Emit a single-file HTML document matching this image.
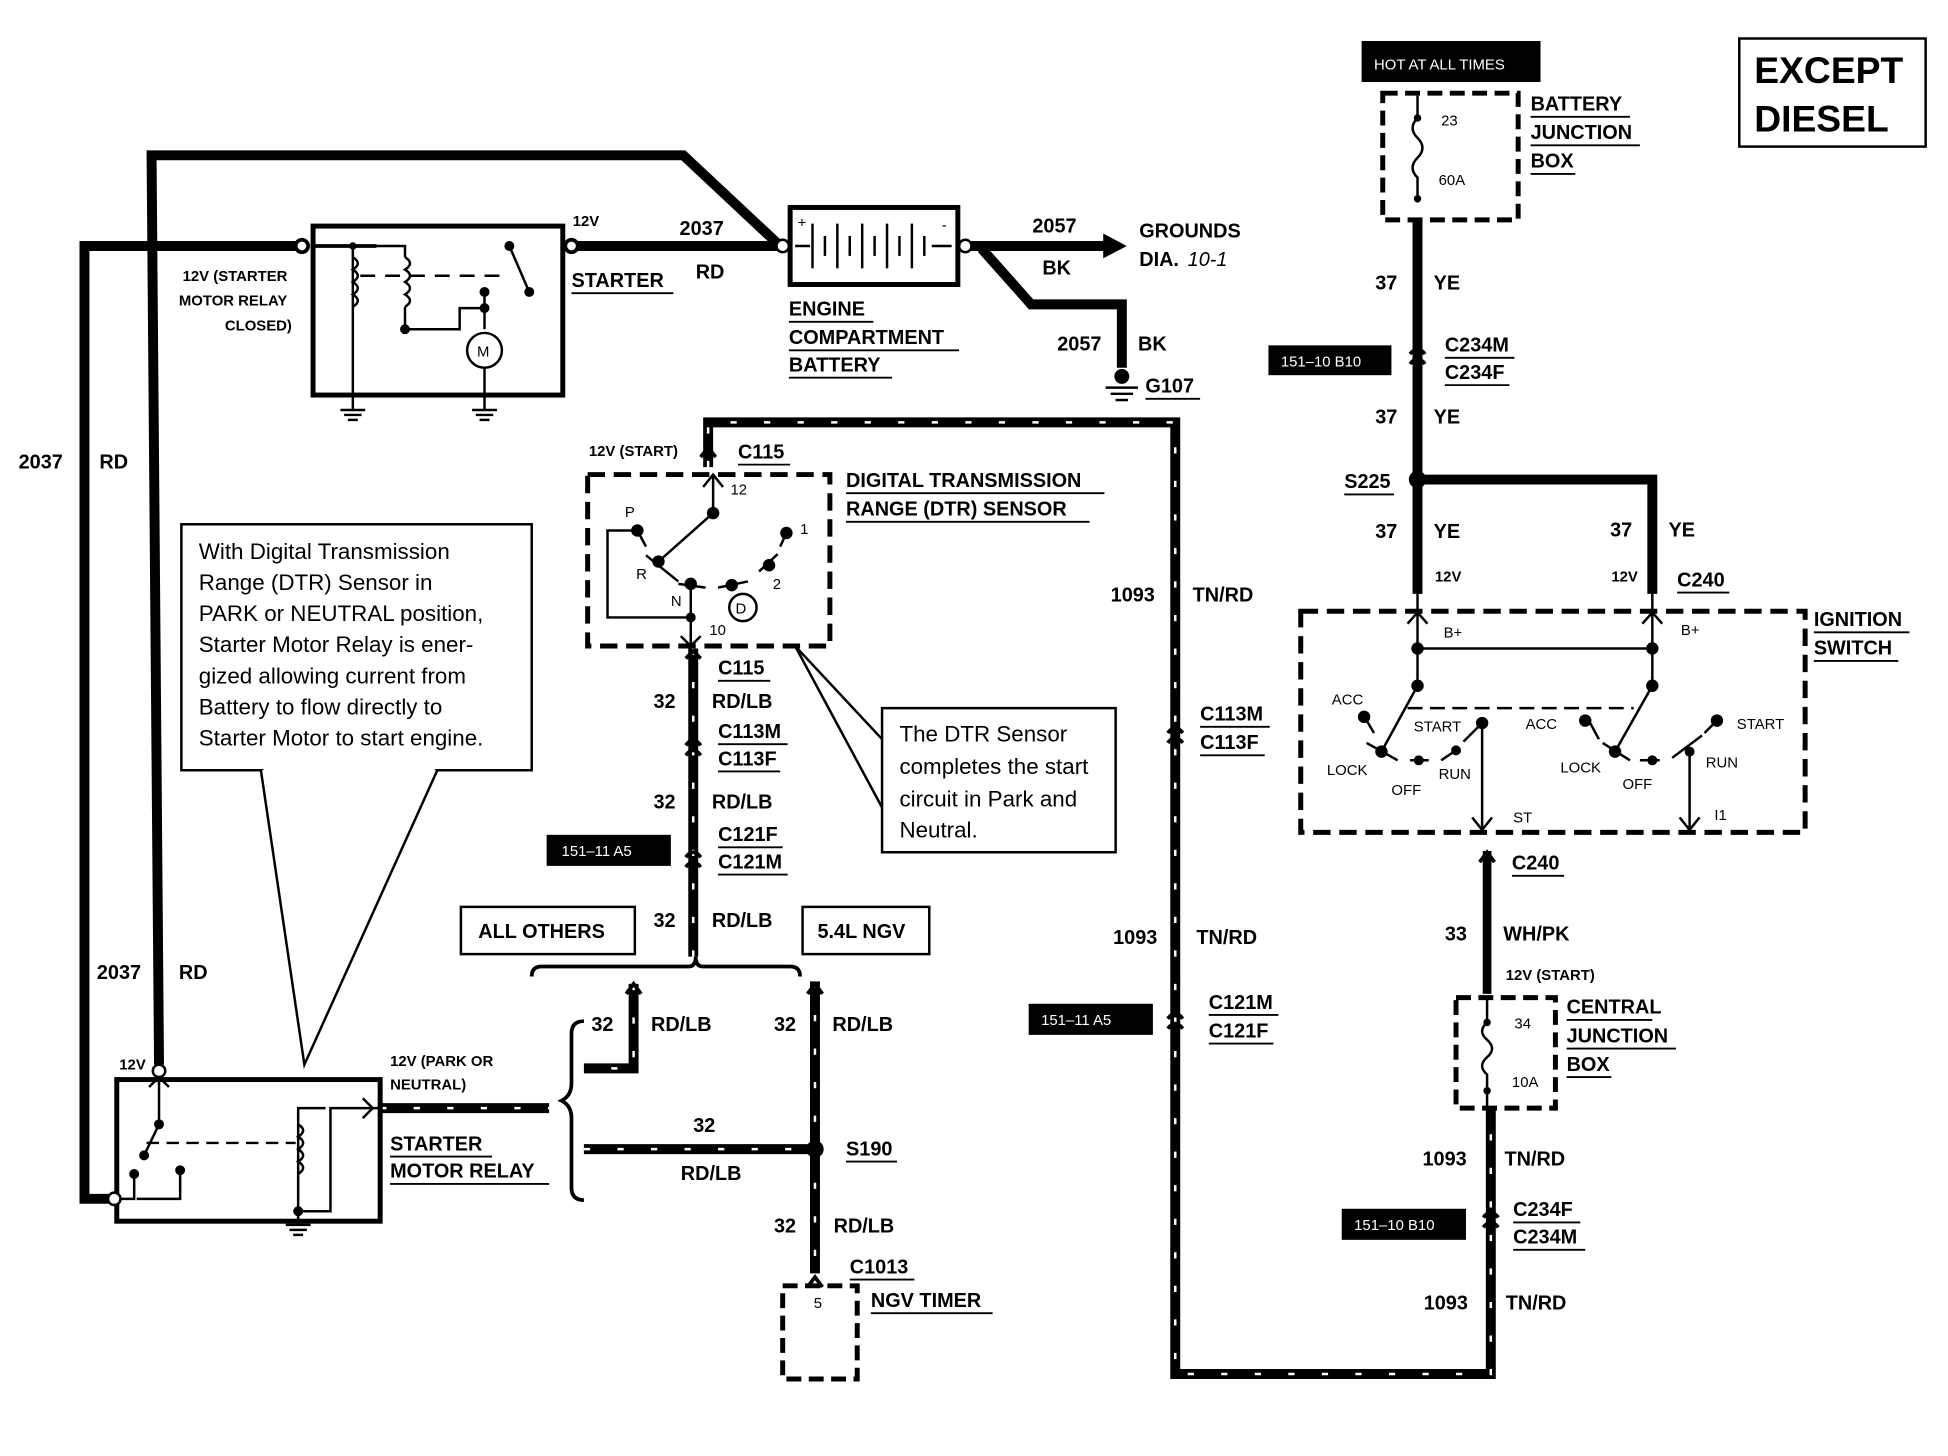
<!DOCTYPE html>
<html><head><meta charset="utf-8"><style>
html,body{margin:0;padding:0;background:#fff;}
svg{display:block;}
text{font-family:"Liberation Sans",Arial,sans-serif;fill:#000;}
.b{font-weight:bold;font-size:16px;}
.s{font-weight:bold;font-size:12px;}
.n{font-size:18px;}
.t{font-size:12px;}
</style></head><body>
<svg width="1948" height="1456" viewBox="0 0 1568 1172" preserveAspectRatio="none" xmlns="http://www.w3.org/2000/svg">
<rect width="1568" height="1172" fill="#fff"/>
<g fill="none" stroke="#000" stroke-linejoin="miter">
<polyline points="128,857 122,125 550,125 628,198" stroke-width="8"/>
<polyline points="88,965 68,965 68,198 240,198" stroke-width="8"/>
<line x1="462" y1="198" x2="628" y2="198" stroke-width="8"/>
<line x1="780" y1="198" x2="890" y2="198" stroke-width="8"/>
<polyline points="790,200 830,245 903,245 903,296" stroke-width="8"/>
<line x1="1141" y1="177" x2="1141" y2="478" stroke-width="8"/>
<polyline points="1141,386 1330,386 1330,478" stroke-width="8"/>
<polyline points="570,376 570,340 946,340 946,1106 1200,1106 1200,892" stroke-width="8"/>
<line x1="558" y1="522" x2="558" y2="770" stroke-width="8"/>
<polyline points="510,792 510,860 470,860" stroke-width="8"/>
<line x1="470" y1="925" x2="656" y2="925" stroke-width="8"/>
<line x1="656" y1="790" x2="656" y2="1025" stroke-width="8"/>
<line x1="306" y1="892" x2="442" y2="892" stroke-width="8"/>
<line x1="1197" y1="685" x2="1197" y2="800" stroke-width="7"/>
</g>
<g stroke="#fff" stroke-width="2" fill="none" stroke-dasharray="5,22">
<polyline points="570,376 570,340 946,340 946,1106 1200,1106 1200,892"/>
<line x1="558" y1="522" x2="558" y2="770"/>
<polyline points="510,792 510,860 470,860"/>
<line x1="470" y1="925" x2="656" y2="925"/>
<line x1="656" y1="790" x2="656" y2="1025"/>
<line x1="306" y1="892" x2="442" y2="892"/>
</g>
<polygon points="888,188 907,198 888,208" fill="#000"/>
<g fill="none" stroke="#000" stroke-width="3">
<rect x="252" y="182" width="201" height="136" stroke-width="4"/>
<circle cx="243" cy="198" r="5" fill="#fff"/>
<circle cx="460" cy="198" r="5" fill="#fff"/>
<polyline points="250,198 303,198"/>
<line x1="284" y1="198" x2="284" y2="318" stroke-width="2"/>
<path d="M284,207 q8,5 0,10 q8,5 0,10 q8,5 0,10 q8,5 0,10" stroke-width="2"/>
<polyline points="284,198 326,198 326,207" stroke-width="2"/>
<path d="M326,207 q8,5 0,10 q8,5 0,10 q8,5 0,10 q8,5 0,10" stroke-width="2"/>
<polyline points="326,247 326,265 370,265 370,248 390,248" stroke-width="2"/>
<line x1="290" y1="222" x2="410" y2="222" stroke-dasharray="12,8" stroke-width="2"/>
<polyline points="410,198 426,235" stroke-width="2"/>
<line x1="390" y1="235" x2="390" y2="265" stroke-width="2"/>
<circle cx="390" cy="282" r="14" stroke-width="2"/>
<line x1="390" y1="296" x2="390" y2="318" stroke-width="2"/>
</g>
<g fill="#000">
<circle cx="284" cy="198" r="3"/><circle cx="410" cy="198" r="4"/><circle cx="426" cy="235" r="4"/><circle cx="390" cy="235" r="4"/><circle cx="390" cy="248" r="4"/><circle cx="326" cy="265" r="4"/>
</g>
<text x="384" y="287" class="t">M</text>
<g stroke="#000" stroke-width="2"><line x1="284" y1="318" x2="284" y2="330"/><line x1="274" y1="330" x2="294" y2="330"/><line x1="277" y1="334" x2="291" y2="334"/><line x1="280" y1="338" x2="288" y2="338"/>
<line x1="390" y1="318" x2="390" y2="330"/><line x1="380" y1="330" x2="400" y2="330"/><line x1="383" y1="334" x2="397" y2="334"/><line x1="386" y1="338" x2="394" y2="338"/></g>
<rect x="636" y="167" width="135" height="62" fill="#fff" stroke="#000" stroke-width="4"/>
<circle cx="630" cy="198" r="5" fill="#fff" stroke="#000" stroke-width="2"/>
<circle cx="777" cy="198" r="5" fill="#fff" stroke="#000" stroke-width="2"/>
<g stroke="#000" stroke-width="2">
<line x1="640" y1="198" x2="652" y2="198"/><line x1="750" y1="198" x2="766" y2="198"/>
<line x1="654" y1="180" x2="654" y2="216"/><line x1="664" y1="190" x2="664" y2="206"/><line x1="674" y1="180" x2="674" y2="216"/><line x1="684" y1="190" x2="684" y2="206"/><line x1="694" y1="180" x2="694" y2="216"/><line x1="704" y1="190" x2="704" y2="206"/><line x1="714" y1="180" x2="714" y2="216"/><line x1="724" y1="190" x2="724" y2="206"/><line x1="734" y1="180" x2="734" y2="216"/><line x1="744" y1="190" x2="744" y2="206"/>
</g>
<text x="642" y="183" class="t">+</text><text x="758" y="185" class="t">-</text>
<g stroke="#000" stroke-width="2"><line x1="890" y1="312" x2="916" y2="312"/><line x1="894" y1="317" x2="912" y2="317"/><line x1="898" y1="322" x2="908" y2="322"/></g>
<circle cx="903" cy="303" r="6" fill="#000"/>
<g fill="none" stroke="#000">
<rect x="473" y="382" width="195" height="138" stroke-width="4" stroke-dasharray="14,7"/>
<line x1="574" y1="382" x2="574" y2="413" stroke-width="2"/>
<polyline points="566,392 574,382 582,392" stroke-width="2"/>
<line x1="574" y1="413" x2="530" y2="452" stroke-width="2"/>
<line x1="513" y1="427" x2="520" y2="440" stroke-width="2"/>
<polyline points="513,427 489,427 489,497 556,497" stroke-width="2"/>
<line x1="556" y1="470" x2="556" y2="520" stroke-width="2"/>
<polyline points="548,512 556,520 564,512" stroke-width="2"/>
<line x1="520" y1="447" x2="546" y2="468" stroke-width="2"/>
<line x1="546" y1="470" x2="568" y2="473" stroke-width="2"/>
<line x1="578" y1="473" x2="602" y2="468" stroke-width="2"/>
<line x1="611" y1="460" x2="626" y2="446" stroke-width="2"/>
<line x1="628" y1="440" x2="633" y2="429" stroke-width="2"/>
<circle cx="598" cy="489" r="11" stroke-width="2"/>
</g>
<g fill="#000"><circle cx="574" cy="413" r="5"/><circle cx="530" cy="452" r="5"/><circle cx="513" cy="427" r="5"/><circle cx="556" cy="470" r="5"/><circle cx="556" cy="497" r="4"/><circle cx="589" cy="471" r="5"/><circle cx="619" cy="455" r="5"/><circle cx="633" cy="429" r="5"/></g>
<text x="503" y="416" class="t">P</text><text x="512" y="466" class="t">R</text><text x="540" y="488" class="t">N</text><text x="592" y="494" class="t">D</text><text x="588" y="398" class="t">12</text><text x="644" y="430" class="t">1</text><text x="622" y="474" class="t">2</text><text x="571" y="511" class="t">10</text>
<g fill="none" stroke="#000" stroke-width="3">
<path d="M552,530 l6,-6 l6,6"/><path d="M552,600 q6,-8 12,0"/><path d="M552,608 q6,-8 12,0"/>
<path d="M552,690 q6,-8 12,0"/><path d="M552,698 q6,-8 12,0"/>
<path d="M940,590 q6,-8 12,0"/><path d="M940,598 q6,-8 12,0"/>
<path d="M940,820 q6,-8 12,0"/><path d="M940,828 q6,-8 12,0"/>
<path d="M1135,285 q6,-8 12,0"/><path d="M1135,293 q6,-8 12,0"/>
<path d="M1194,980 q6,-8 12,0"/><path d="M1194,988 q6,-8 12,0"/>
<path d="M1191,694 l6,-8 l6,8"/>
<path d="M564,368 l6,-8 l6,8"/>
<path d="M428,786 q0,-8 8,-8 l118,0 q6,0 6,-8 q0,8 6,8 l70,0 q8,0 8,8"/>
<path d="M470,822 q-10,0 -10,10 l0,40 q0,10 -8,14 q8,4 8,14 l0,56 q0,10 10,10"/>
<path d="M650,800 l6,-8 l6,8"/>
<path d="M504,800 l6,-8 l6,8"/>
</g>
<circle cx="656" cy="925" r="7" fill="#000"/>
<circle cx="1141" cy="386" r="7" fill="#000"/>
<rect x="630" y="1035" width="60" height="75" fill="none" stroke="#000" stroke-width="4" stroke-dasharray="12,6"/>
<path d="M650,1036 l6,-8 l6,8" fill="none" stroke="#000" stroke-width="3"/>
<text x="655" y="1053" class="t">5</text>
<rect x="94" y="869" width="212" height="114" fill="none" stroke="#000" stroke-width="4"/>
<circle cx="128" cy="862" r="5" fill="#fff" stroke="#000" stroke-width="2"/>
<circle cx="92" cy="965" r="5" fill="#fff" stroke="#000" stroke-width="2"/>
<g fill="none" stroke="#000" stroke-width="2">
<polyline points="128,869 128,905 116,930"/>
<polyline points="97,965 108,965 108,945"/>
<polyline points="145,942 145,965 110,965"/>
<line x1="118" y1="920" x2="238" y2="920" stroke-dasharray="10,6"/>
<polyline points="306,892 266,892 266,975 240,975 240,892 262,892"/>
<path d="M240,905 q8,5 0,10 q8,5 0,10 q8,5 0,10 q8,5 0,10"/>
<path d="M120,875 l8,-8 l8,8"/><path d="M292,884 l8,8 l-8,8"/>
<line x1="240" y1="975" x2="240" y2="986"/><line x1="230" y1="986" x2="250" y2="986"/><line x1="233" y1="990" x2="247" y2="990"/><line x1="236" y1="994" x2="244" y2="994"/>
</g>
<g fill="#000"><circle cx="128" cy="905" r="4"/><circle cx="116" cy="930" r="4"/><circle cx="145" cy="942" r="4"/><circle cx="108" cy="945" r="4"/><circle cx="240" cy="975" r="4"/></g>
<rect x="146" y="422" width="282" height="198" fill="#fff" stroke="#000" stroke-width="2"/>
<polyline points="210,620 245,857 352,620" fill="#fff" stroke="#000" stroke-width="2"/>
<line x1="212" y1="619" x2="350" y2="619" stroke="#fff" stroke-width="3"/>
<text x="160" y="450" class="n">With Digital Transmission</text><text x="160" y="475" class="n">Range (DTR) Sensor in</text><text x="160" y="500" class="n">PARK or NEUTRAL position,</text><text x="160" y="525" class="n">Starter Motor Relay is ener-</text><text x="160" y="550" class="n">gized allowing current from</text><text x="160" y="575" class="n">Battery to flow directly to</text><text x="160" y="600" class="n">Starter Motor to start engine.</text>
<rect x="710" y="570" width="188" height="116" fill="#fff" stroke="#000" stroke-width="2"/>
<polyline points="710,595 640,520 710,650" fill="none" stroke="#000" stroke-width="2"/>
<text x="724" y="597" class="n">The DTR Sensor</text><text x="724" y="623" class="n">completes the start</text><text x="724" y="649" class="n">circuit in Park and</text><text x="724" y="674" class="n">Neutral.</text>
<rect x="1096" y="33" width="144" height="33" fill="#000"/>
<text x="1106" y="56" class="t" style="fill:#fff">HOT AT ALL TIMES</text>
<rect x="1113" y="75" width="109" height="102" fill="none" stroke="#000" stroke-width="4" stroke-dasharray="12,6"/>
<path d="M1141,77 l0,18 q-8,8 0,16 q8,8 0,16 q-8,8 0,16 l0,20" fill="none" stroke="#000" stroke-width="2"/>
<circle cx="1141" cy="95" r="3" fill="#000"/><circle cx="1141" cy="160" r="3" fill="#000"/>
<text x="1160" y="101" class="t">23</text><text x="1158" y="149" class="t">60A</text>
<rect x="1047" y="492" width="406" height="178" fill="none" stroke="#000" stroke-width="4" stroke-dasharray="14,7"/>
<g fill="none" stroke="#000" stroke-width="2">
<line x1="1141" y1="478" x2="1141" y2="552"/><line x1="1330" y1="478" x2="1330" y2="552"/>
<path d="M1133,502 l8,-9 l8,9"/><path d="M1322,502 l8,-9 l8,9"/>
<line x1="1141" y1="522" x2="1330" y2="522"/>
<line x1="1141" y1="552" x2="1112" y2="605"/><line x1="1330" y1="552" x2="1300" y2="605"/>
<line x1="1133" y1="570" x2="1315" y2="570" stroke-dasharray="12,6"/>
<line x1="1100" y1="580" x2="1106" y2="590"/><line x1="1100" y1="598" x2="1125" y2="612"/><line x1="1135" y1="612" x2="1150" y2="612"/><line x1="1160" y1="612" x2="1175" y2="602"/><line x1="1178" y1="597" x2="1190" y2="585"/>
<line x1="1193" y1="585" x2="1193" y2="668"/><path d="M1185,658 l8,10 l8,-10"/>
<line x1="1280" y1="582" x2="1287" y2="595"/><line x1="1290" y1="598" x2="1312" y2="612"/><line x1="1320" y1="612" x2="1336" y2="612"/><line x1="1346" y1="610" x2="1370" y2="592"/>
<line x1="1360" y1="605" x2="1360" y2="668"/><path d="M1352,658 l8,10 l8,-10"/>
<line x1="1372" y1="590" x2="1380" y2="582"/>
</g>
<g fill="#000"><circle cx="1141" cy="522" r="5"/><circle cx="1330" cy="522" r="5"/><circle cx="1141" cy="552" r="5"/><circle cx="1330" cy="552" r="5"/><circle cx="1112" cy="605" r="5"/><circle cx="1300" cy="605" r="5"/><circle cx="1098" cy="577" r="5"/><circle cx="1142" cy="612" r="4"/><circle cx="1172" cy="604" r="4"/><circle cx="1193" cy="582" r="5"/><circle cx="1276" cy="580" r="5"/><circle cx="1330" cy="612" r="4"/><circle cx="1360" cy="605" r="4"/><circle cx="1382" cy="580" r="5"/></g>
<text x="1162" y="513" class="t">B+</text><text x="1353" y="511" class="t">B+</text><text x="1072" y="567" class="t">ACC</text><text x="1138" y="589" class="t">START</text><text x="1228" y="587" class="t">ACC</text><text x="1398" y="587" class="t">START</text><text x="1068" y="624" class="t">LOCK</text><text x="1158" y="627" class="t">RUN</text><text x="1120" y="640" class="t">OFF</text><text x="1256" y="622" class="t">LOCK</text><text x="1373" y="618" class="t">RUN</text><text x="1306" y="635" class="t">OFF</text><text x="1218" y="662" class="t">ST</text><text x="1380" y="660" class="t">I1</text>
<rect x="1172" y="803" width="80" height="89" fill="none" stroke="#000" stroke-width="4" stroke-dasharray="12,6"/>
<path d="M1197,803 l0,20 q-8,7 0,14 q8,7 0,14 q-8,7 0,14 l0,27" fill="none" stroke="#000" stroke-width="2"/>
<circle cx="1197" cy="823" r="3" fill="#000"/><circle cx="1197" cy="878" r="3" fill="#000"/>
<text x="1219" y="828" class="t">34</text><text x="1217" y="875" class="t">10A</text>
<rect x="1021" y="278" width="99" height="24" fill="#000"/><text x="1031" y="295" class="t" style="fill:#fff">151–10 B10</text>
<rect x="440" y="672" width="100" height="25" fill="#000"/><text x="452" y="689" class="t" style="fill:#fff">151–11 A5</text>
<rect x="828" y="808" width="100" height="25" fill="#000"/><text x="838" y="825" class="t" style="fill:#fff">151–11 A5</text>
<rect x="1080" y="973" width="100" height="25" fill="#000"/><text x="1090" y="990" class="t" style="fill:#fff">151–10 B10</text>
<rect x="1400" y="31" width="150" height="87" fill="none" stroke="#000" stroke-width="2"/>
<text x="1412" y="67" style="font-weight:bold;font-size:30px">EXCEPT</text>
<text x="1412" y="106" style="font-weight:bold;font-size:30px">DIESEL</text>
<rect x="371" y="730" width="140" height="38" fill="none" stroke="#000" stroke-width="2"/><text x="385" y="755" class="b">ALL OTHERS</text>
<rect x="646" y="730" width="102" height="38" fill="none" stroke="#000" stroke-width="2"/><text x="658" y="755" class="b">5.4L NGV</text>
<g>
<text x="15" y="377" class="b">2037</text><text x="80" y="377" class="b">RD</text>
<text x="78" y="788" class="b">2037</text><text x="144" y="788" class="b">RD</text>
<text x="547" y="189" class="b">2037</text><text x="560" y="224" class="b">RD</text>
<text x="460" y="231" class="b">STARTER</text>
<text x="831" y="187" class="b">2057</text><text x="839" y="221" class="b">BK</text>
<text x="917" y="191" class="b">GROUNDS</text>
<text x="917" y="214" class="b">DIA.</text><text x="956" y="214" style="font-size:16px;font-style:italic">10-1</text>
<text x="851" y="282" class="b">2057</text><text x="916" y="282" class="b">BK</text>
<text x="922" y="316" class="b">G107</text>
<text x="635" y="254" class="b">ENGINE</text><text x="635" y="277" class="b">COMPARTMENT</text><text x="635" y="299" class="b">BATTERY</text>
<text x="594" y="369" class="b">C115</text>
<text x="681" y="392" class="b">DIGITAL TRANSMISSION</text><text x="681" y="415" class="b">RANGE (DTR) SENSOR</text>
<text x="578" y="543" class="b">C115</text>
<text x="526" y="570" class="b">32</text><text x="573" y="570" class="b">RD/LB</text>
<text x="578" y="594" class="b">C113M</text><text x="578" y="616" class="b">C113F</text>
<text x="526" y="651" class="b">32</text><text x="573" y="651" class="b">RD/LB</text>
<text x="578" y="677" class="b">C121F</text><text x="578" y="699" class="b">C121M</text>
<text x="526" y="746" class="b">32</text><text x="573" y="746" class="b">RD/LB</text>
<text x="476" y="830" class="b">32</text><text x="524" y="830" class="b">RD/LB</text>
<text x="623" y="830" class="b">32</text><text x="670" y="830" class="b">RD/LB</text>
<text x="558" y="911" class="b">32</text><text x="548" y="950" class="b">RD/LB</text>
<text x="681" y="930" class="b">S190</text>
<text x="623" y="992" class="b">32</text><text x="671" y="992" class="b">RD/LB</text>
<text x="684" y="1025" class="b">C1013</text>
<text x="701" y="1052" class="b">NGV TIMER</text>
<text x="314" y="926" class="b">STARTER</text><text x="314" y="948" class="b">MOTOR RELAY</text>
<text x="894" y="484" class="b">1093</text><text x="960" y="484" class="b">TN/RD</text>
<text x="966" y="580" class="b">C113M</text><text x="966" y="603" class="b">C113F</text>
<text x="896" y="760" class="b">1093</text><text x="963" y="760" class="b">TN/RD</text>
<text x="973" y="812" class="b">C121M</text><text x="973" y="835" class="b">C121F</text>
<text x="1232" y="89" class="b">BATTERY</text><text x="1232" y="112" class="b">JUNCTION</text><text x="1232" y="135" class="b">BOX</text>
<text x="1107" y="233" class="b">37</text><text x="1154" y="233" class="b">YE</text>
<text x="1163" y="283" class="b">C234M</text><text x="1163" y="305" class="b">C234F</text>
<text x="1107" y="341" class="b">37</text><text x="1154" y="341" class="b">YE</text>
<text x="1082" y="393" class="b">S225</text>
<text x="1107" y="433" class="b">37</text><text x="1154" y="433" class="b">YE</text>
<text x="1296" y="432" class="b">37</text><text x="1343" y="432" class="b">YE</text>
<text x="1350" y="472" class="b">C240</text>
<text x="1460" y="504" class="b">IGNITION</text><text x="1460" y="527" class="b">SWITCH</text>
<text x="1217" y="700" class="b">C240</text>
<text x="1163" y="757" class="b">33</text><text x="1210" y="757" class="b">WH/PK</text>
<text x="1261" y="816" class="b">CENTRAL</text><text x="1261" y="839" class="b">JUNCTION</text><text x="1261" y="862" class="b">BOX</text>
<text x="1145" y="938" class="b">1093</text><text x="1211" y="938" class="b">TN/RD</text>
<text x="1218" y="979" class="b">C234F</text><text x="1218" y="1001" class="b">C234M</text>
<text x="1146" y="1054" class="b">1093</text><text x="1212" y="1054" class="b">TN/RD</text>
</g>
<text x="461" y="182" class="s">12V</text>
<text x="147" y="226" class="s">12V (STARTER</text><text x="144" y="246" class="s">MOTOR RELAY</text><text x="181" y="266" class="s">CLOSED)</text>
<text x="474" y="367" class="s">12V (START)</text>
<text x="96" y="861" class="s">12V</text>
<text x="314" y="858" class="s">12V (PARK OR</text><text x="314" y="877" class="s">NEUTRAL)</text>
<text x="1155" y="468" class="s">12V</text><text x="1297" y="468" class="s">12V</text>
<text x="1212" y="789" class="s">12V (START)</text>
<g stroke="#000" stroke-width="1.5">
<line x1="460" y1="236" x2="542" y2="236"/><line x1="635" y1="259" x2="703" y2="259"/><line x1="635" y1="282" x2="772" y2="282"/><line x1="635" y1="304" x2="718" y2="304"/>
<line x1="922" y1="321" x2="966" y2="321"/><line x1="594" y1="374" x2="636" y2="374"/>
<line x1="681" y1="397" x2="889" y2="397"/><line x1="681" y1="420" x2="877" y2="420"/>
<line x1="578" y1="548" x2="620" y2="548"/><line x1="578" y1="599" x2="634" y2="599"/><line x1="578" y1="621" x2="628" y2="621"/>
<line x1="578" y1="682" x2="630" y2="682"/><line x1="578" y1="704" x2="634" y2="704"/>
<line x1="681" y1="935" x2="722" y2="935"/><line x1="684" y1="1030" x2="736" y2="1030"/><line x1="701" y1="1057" x2="799" y2="1057"/>
<line x1="314" y1="931" x2="396" y2="931"/><line x1="314" y1="953" x2="442" y2="953"/>
<line x1="966" y1="585" x2="1022" y2="585"/><line x1="966" y1="608" x2="1018" y2="608"/>
<line x1="973" y1="817" x2="1029" y2="817"/><line x1="973" y1="840" x2="1025" y2="840"/>
<line x1="1232" y1="94" x2="1312" y2="94"/><line x1="1232" y1="117" x2="1320" y2="117"/><line x1="1232" y1="140" x2="1268" y2="140"/>
<line x1="1163" y1="288" x2="1219" y2="288"/><line x1="1163" y1="310" x2="1215" y2="310"/>
<line x1="1082" y1="398" x2="1122" y2="398"/><line x1="1350" y1="477" x2="1392" y2="477"/>
<line x1="1460" y1="509" x2="1537" y2="509"/><line x1="1460" y1="532" x2="1528" y2="532"/>
<line x1="1217" y1="705" x2="1259" y2="705"/>
<line x1="1261" y1="821" x2="1330" y2="821"/><line x1="1261" y1="844" x2="1349" y2="844"/><line x1="1261" y1="867" x2="1297" y2="867"/>
<line x1="1218" y1="984" x2="1272" y2="984"/><line x1="1218" y1="1006" x2="1276" y2="1006"/>
</g>
</svg>
</body></html>
